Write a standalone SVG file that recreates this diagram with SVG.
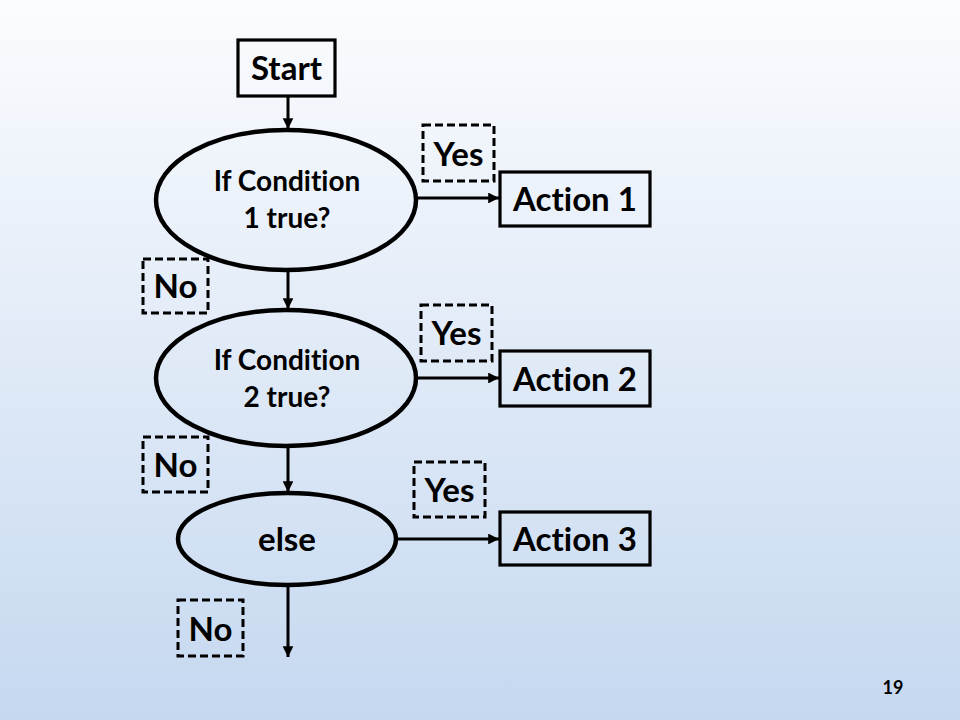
<svg xmlns="http://www.w3.org/2000/svg" width="960" height="720" viewBox="0 0 960 720">
<defs>
<linearGradient id="bg" x1="0" y1="0" x2="0" y2="1">
<stop offset="0" stop-color="#fbfcfe"/>
<stop offset="1" stop-color="#c5d8f0"/>
</linearGradient>
<marker id="ah" viewBox="0 0 10 10" refX="10" refY="5" markerWidth="3.6" markerHeight="3.6" orient="auto" markerUnits="strokeWidth">
<path d="M0,0 L10,5 L0,10 z" fill="#000"/>
</marker>
<style>
.box{fill:none;stroke:#000;stroke-width:3.2}
.ell{fill:none;stroke:#000;stroke-width:4.5}
.dash{fill:none;stroke:#000;stroke-width:3;stroke-dasharray:8 4}
.t{font-family:Lato,"Open Sans","Liberation Sans",sans-serif;font-weight:bold;fill:#000;text-anchor:middle;font-variant-ligatures:none}
.big{font-size:33px}
.mid{font-size:28px}
.con{fill:none;stroke:#000;stroke-width:3;marker-end:url(#ah)}
</style>
</defs>
<rect width="960" height="720" fill="url(#bg)"/>
<g id="connectors">
<line class="con" x1="288" y1="96" x2="288" y2="129"/>
<line class="con" x1="416" y1="198" x2="499" y2="198"/>
<line class="con" x1="288" y1="270" x2="288" y2="309"/>
<line class="con" x1="416" y1="378" x2="499" y2="378"/>
<line class="con" x1="288" y1="446" x2="288" y2="492"/>
<line class="con" x1="396" y1="539" x2="499" y2="539"/>
<line class="con" x1="288" y1="585" x2="288" y2="657"/>
</g>
<g id="start">
<rect class="box" x="238" y="40" width="97" height="56"/>
<text class="t big" x="286.5" y="80">Start</text>
</g>
<g id="cond1">
<ellipse class="ell" cx="286" cy="200" rx="130" ry="70"/>
<text class="t mid" x="287" y="191">If Condition</text>
<text class="t mid" x="287" y="228">1 true?</text>
</g>
<g id="yes1">
<rect class="dash" x="423" y="125" width="71" height="56"/>
<text class="t big" x="458.5" y="166">Yes</text>
</g>
<g id="action1">
<rect class="box" x="500" y="172" width="150" height="54"/>
<text class="t big" x="575" y="211">Action 1</text>
</g>
<g id="no1">
<rect class="dash" x="143" y="259" width="65" height="54"/>
<text class="t big" x="175.5" y="298">No</text>
</g>
<g id="cond2">
<ellipse class="ell" cx="286" cy="378" rx="130" ry="68"/>
<text class="t mid" x="287" y="370">If Condition</text>
<text class="t mid" x="287" y="407">2 true?</text>
</g>
<g id="yes2">
<rect class="dash" x="421" y="305" width="71" height="56"/>
<text class="t big" x="456.5" y="345">Yes</text>
</g>
<g id="action2">
<rect class="box" x="500" y="351" width="150" height="55"/>
<text class="t big" x="575" y="391">Action 2</text>
</g>
<g id="no2">
<rect class="dash" x="143" y="437" width="65" height="55"/>
<text class="t big" x="175.5" y="477">No</text>
</g>
<g id="else">
<ellipse class="ell" cx="287" cy="539" rx="109" ry="46"/>
<text class="t big" x="287" y="551">else</text>
</g>
<g id="yes3">
<rect class="dash" x="414" y="462" width="71" height="55"/>
<text class="t big" x="449.5" y="502">Yes</text>
</g>
<g id="action3">
<rect class="box" x="500" y="512" width="150" height="53"/>
<text class="t big" x="575" y="551">Action 3</text>
</g>
<g id="no3">
<rect class="dash" x="178" y="600" width="65" height="56"/>
<text class="t big" x="210.5" y="641">No</text>
</g>
<text class="t" x="893" y="694" font-size="18">19</text>
</svg>
